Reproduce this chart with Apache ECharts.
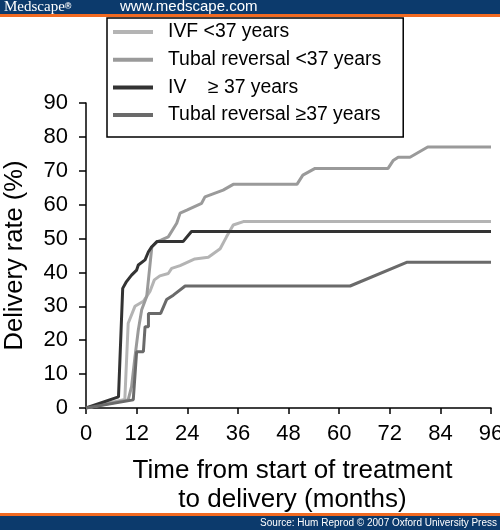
<!DOCTYPE html>
<html><head><meta charset="utf-8">
<script src="https://cdn.jsdelivr.net/npm/echarts@6/dist/echarts.min.js"></script>
<style>html,body{margin:0;padding:0;background:#fff}#c{width:500px;height:530px}</style>
</head><body><div id="c"></div>
<script>
var seriesNames = ['IVF <37 years', 'Tubal reversal <37 years', 'IV    \u2265 37 years', 'Tubal reversal \u226537 years'];
var xTicks = [0, 12, 24, 36, 48, 60, 72, 84, 96];
var yTicks = [0, 10, 20, 30, 40, 50, 60, 70, 80, 90];
var ivfYoung = [[0,0],[9.2,2.5],[10,25],[11.6,30],[13.6,31.5],[15.2,34.5],[16.2,37.8],[17.5,39],[19.5,39.7],[20.3,41.2],[22.3,42],[25.8,44],[29,44.5],[31.8,47],[33.3,50.5],[34.9,54],[37.3,55],[96,55]];
var tubalYoung = [[0,0],[10,2.4],[10.8,6.3],[11.6,15],[12.4,23],[13.2,29],[14.4,33],[15.6,47.5],[16.8,49],[17.9,49.6],[19.5,50.5],[21.5,54.5],[22.3,57.5],[23.9,58.4],[27.4,60.4],[28.2,62.3],[32.5,64.3],[34.9,66],[50,66],[51.4,68.7],[54.3,70.7],[71.6,70.7],[72.8,73],[74,74],[76.8,74],[81,77],[96,77]];
var ivfOld = [[0,0],[7.7,3.3],[8.7,35.3],[9.6,37.3],[10.8,39.2],[12,40.7],[12.4,42.2],[14,43.7],[14.8,46.1],[15.6,47.6],[16.8,49.1],[23,49.1],[25,52.1],[96,52.1]];
var tubalOld = [[0,0],[11.2,2.4],[12,16.6],[13.6,16.6],[14,24],[14.8,24],[14.8,27.9],[17.7,27.9],[19.1,32],[20.7,33.3],[23.5,36],[62.6,36],[76,43],[96,43]];
var seriesData = [ivfYoung, tubalYoung, ivfOld, tubalOld];
var colors = ['#b4b4b4', '#9a9a9a', '#333333', '#6a6a6a'];

var chart = echarts.init(document.getElementById('c'), null, {renderer: 'canvas'});
var font = 'Liberation Sans, Arial, sans-serif';
chart.setOption({
  animation: false,
  grid: {left: 86, right: 9, top: 103, bottom: 122, containLabel: false, outerBoundsMode: 'none'},
  legend: {
    orient: 'vertical', left: 107, top: 18,
    data: seriesNames, icon: 'rect', itemWidth: 40, itemHeight: 4, itemGap: 8.7,
    padding: [4.5, 22, 12.5, 6],
    borderColor: '#000', borderWidth: 1.5, backgroundColor: '#fff',
    selectedMode: false,
    textStyle: {fontFamily: font, fontSize: 19.4, color: '#000', lineHeight: 19, padding: [0, 0, 0, 10]}
  },
  xAxis: {
    type: 'value', min: 0, max: 96, interval: 12,
    name: 'Time from start of treatment\nto delivery (months)', nameLocation: 'middle', nameGap: 48,
    nameTextStyle: {fontFamily: font, fontSize: 26, color: '#000', lineHeight: 29, padding: [0, 0, 0, 8]},
    axisLine: {lineStyle: {color: '#000', width: 1.5}},
    axisTick: {show: true, inside: false, length: 6, lineStyle: {color: '#000', width: 1.5}},
    axisLabel: {fontFamily: font, fontSize: 22, color: '#000', margin: 15,
      formatter: function (v) { return xTicks.indexOf(v) >= 0 ? String(v) : ''; }},
    splitLine: {show: false}
  },
  yAxis: {
    type: 'value', min: 0, max: 90, interval: 10,
    name: 'Delivery rate (%)', nameLocation: 'middle', nameGap: 58,
    nameTextStyle: {fontFamily: font, fontSize: 25.5, color: '#000'},
    axisLine: {show: true, lineStyle: {color: '#000', width: 1.5}},
    axisTick: {show: true, inside: false, length: 7, lineStyle: {color: '#000', width: 1.5}},
    axisLabel: {fontFamily: font, fontSize: 22, color: '#000', margin: 18,
      formatter: function (v) { return yTicks.indexOf(v) >= 0 ? String(v) : ''; }},
    splitLine: {show: false}
  },
  series: seriesNames.map(function (n, i) {
    return {name: n, type: 'line', data: seriesData[i], symbol: 'none', color: colors[i],
      lineStyle: {color: colors[i], width: 3}, z: 2 + i};
  }),
  graphic: [
    {type: 'rect', shape: {x: 0, y: 0, width: 500, height: 14}, style: {fill: '#0c3a6c'}, z: 10},
    {type: 'rect', shape: {x: 0, y: 14, width: 500, height: 3}, style: {fill: '#f26a21'}, z: 10},
    {type: 'text', x: 4, y: 7, style: {text: '{m|Medscape}{r|\u00ae}', fill: '#fff', textVerticalAlign: 'middle',
      rich: {m: {fontFamily: 'Liberation Serif, serif', fontSize: 15, fill: '#fff'}, r: {fontFamily: 'Liberation Sans, sans-serif', fontSize: 9, fontWeight: 'bold', fill: '#fff'}}}, z: 11},
    {type: 'text', x: 120, y: 7, style: {text: 'www.medscape.com', fill: '#fff', font: '15px "Liberation Sans", Arial, sans-serif', textVerticalAlign: 'middle'}, z: 11},
    {type: 'rect', shape: {x: 0, y: 513, width: 500, height: 3}, style: {fill: '#f26a21'}, z: 10},
    {type: 'rect', shape: {x: 0, y: 516, width: 500, height: 14}, style: {fill: '#0c3a6c'}, z: 10},
    {type: 'text', x: 497, y: 523, style: {text: 'Source: Hum Reprod \u00a9 2007 Oxford University Press', fill: '#fff', font: '10px "Liberation Sans", Arial, sans-serif', textAlign: 'right', textVerticalAlign: 'middle'}, z: 11}
  ]
});
</script></body></html>
